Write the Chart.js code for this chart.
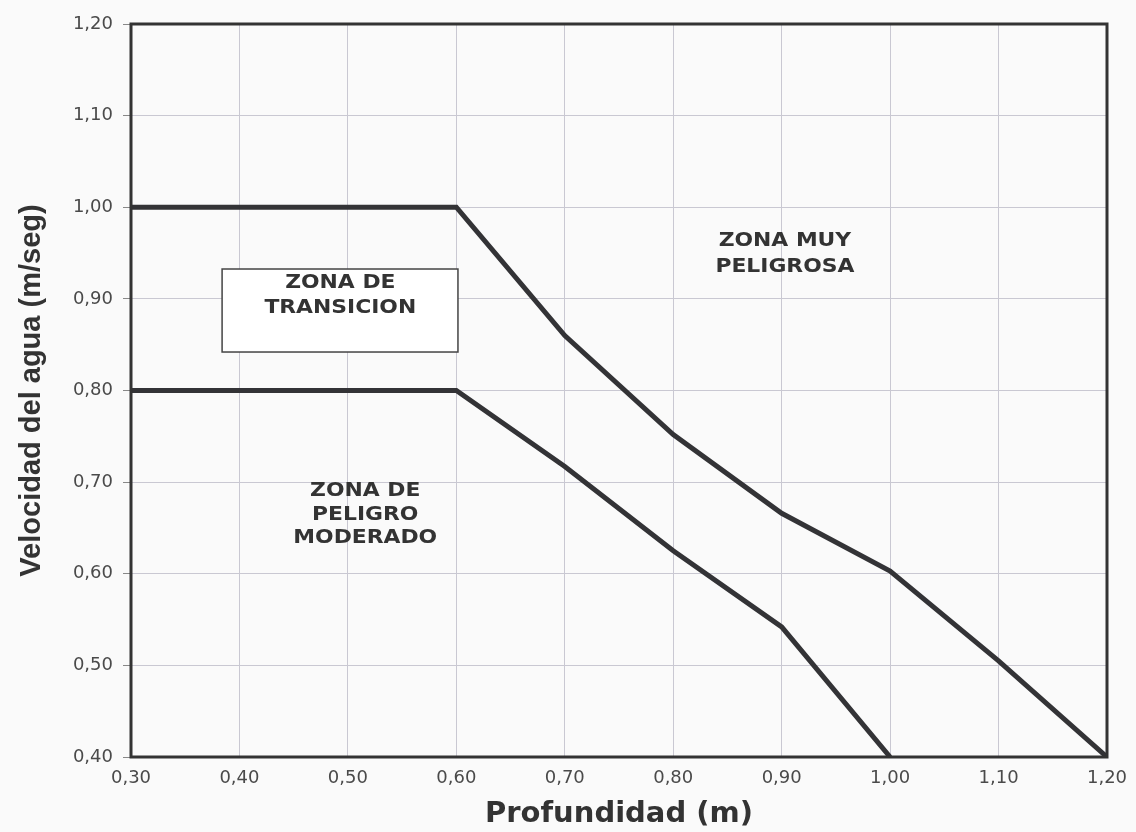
<!DOCTYPE html>
<html lang="es">
<head>
  <meta charset="UTF-8" />
  <title>Velocidad del agua vs Profundidad</title>
  <script src="https://cdn.jsdelivr.net/npm/chart.js"></script>
  <style>
    body {
      margin: 0;
      background: #fafafa;
    }
    canvas {
      display: block;
    }
  </style>
</head>
<body>

<canvas id="chart-zonas" width="1136" height="832"></canvas>

<script>
  // limite superior (zona muy peligrosa)
  const depthUpper = [0.30, 0.60, 0.70, 0.80, 0.90, 1.00, 1.10, 1.20];
  const velUpper   = [1.00, 1.00, 0.86, 0.752, 0.666, 0.603, 0.505, 0.40];

  // limite inferior (zona de peligro moderado)
  const depthLower = [0.30, 0.60, 0.70, 0.80, 0.90, 1.00];
  const velLower   = [0.80, 0.80, 0.717, 0.625, 0.542, 0.40];

  const xTicks = [0.30, 0.40, 0.50, 0.60, 0.70, 0.80, 0.90, 1.00, 1.10, 1.20];
  const yTicks = [0.40, 0.50, 0.60, 0.70, 0.80, 0.90, 1.00, 1.10, 1.20];

  const zonaMuyPeligrosa = ["ZONA MUY", "PELIGROSA"];
  const zonaTransicion = ["ZONA DE", "TRANSICION"];
  const zonaModerado = ["ZONA DE", "PELIGRO", "MODERADO"];

  const fmt = v => v.toFixed(2).replace('.', ',');
  const toPts = (xs, ys) => xs.map((x, i) => ({ x: x, y: ys[i] }));

  const lineColor = '#333336';
  const gridColor = '#c9c8d2';

  // marco grueso alrededor del area del grafico + textos de zonas
  const zonasPlugin = {
    id: 'zonas',
    afterDatasetsDraw(chart) {
      const { ctx, chartArea: a, scales: { x, y } } = chart;
      ctx.save();

      // caja de transicion
      const bx1 = x.getPixelForValue(0.384), bx2 = x.getPixelForValue(0.6015);
      const by1 = y.getPixelForValue(0.9326), by2 = y.getPixelForValue(0.842);
      ctx.fillStyle = '#ffffff';
      ctx.fillRect(bx1, by1, bx2 - bx1, by2 - by1);
      ctx.strokeStyle = '#444';
      ctx.lineWidth = 1.5;
      ctx.strokeRect(bx1, by1, bx2 - bx1, by2 - by1);

      const writeLines = (lines, xv, yvs) => {
        ctx.font = 'bold 19px "DejaVu Sans"';
        ctx.fillStyle = '#333';
        ctx.textAlign = 'center';
        ctx.textBaseline = 'middle';
        lines.forEach((t, i) => {
          const px = x.getPixelForValue(xv);
          const py = y.getPixelForValue(yvs[i]);
          ctx.save();
          ctx.translate(px, py);
          ctx.scale(1.15, 1);
          ctx.fillText(t, 0, 0);
          ctx.restore();
        });
      };
      writeLines(zonaMuyPeligrosa, 0.903, [0.963, 0.935]);
      writeLines(zonaTransicion, 0.493, [0.917, 0.890]);
      writeLines(zonaModerado, 0.516, [0.690, 0.664, 0.639]);

      ctx.strokeStyle = '#333';
      ctx.lineWidth = 3;
      ctx.strokeRect(a.left, a.top, a.right - a.left, a.bottom - a.top);
      ctx.restore();
    }
  };

  const ctx = document.getElementById('chart-zonas');

  new Chart(ctx, {
    type: 'scatter',
    data: {
      datasets: [
        {
          label: 'Limite superior',
          data: toPts(depthUpper, velUpper),
          showLine: true,
          borderColor: lineColor,
          borderWidth: 5,
          pointRadius: 0,
          tension: 0
        },
        {
          label: 'Limite inferior',
          data: toPts(depthLower, velLower),
          showLine: true,
          borderColor: lineColor,
          borderWidth: 5,
          pointRadius: 0,
          tension: 0
        }
      ]
    },
    options: {
      responsive: false,
      animation: false,
      layout: { padding: { top: 24, right: 29, bottom: 0, left: 0 } },
      plugins: {
        legend: { display: false },
        tooltip: { enabled: false }
      },
      scales: {
        x: {
          type: 'linear',
          min: 0.30,
          max: 1.20,
          afterBuildTicks: s => { s.ticks = xTicks.map(v => ({ value: v })); },
          afterFit: s => { s.height = 75; },
          ticks: {
            callback: v => fmt(v),
            color: '#4a4a4a',
            padding: 3,
            maxRotation: 0,
            font: { family: '"DejaVu Sans"', size: 18 }
          },
          grid: { color: gridColor, tickLength: 8, tickColor: 'rgba(0,0,0,0)' },
          border: { display: false },
          title: {
            display: true,
            text: 'Profundidad (m)',
            color: '#333',
            padding: { top: 0, bottom: 0 },
            font: { family: '"DejaVu Sans"', size: 29, weight: 'bold' }
          }
        },
        y: {
          type: 'linear',
          min: 0.40,
          max: 1.20,
          afterBuildTicks: s => { s.ticks = yTicks.map(v => ({ value: v })); },
          afterFit: s => { s.width = 131; },
          ticks: {
            callback: v => fmt(v),
            color: '#4a4a4a',
            padding: 10,
            font: { family: '"DejaVu Sans"', size: 18 }
          },
          grid: { color: gridColor, tickLength: 8, tickColor: '#888' },
          border: { display: false },
          title: {
            display: true,
            text: 'Velocidad del agua (m/seg)',
            color: '#333',
            padding: { top: 15, bottom: 0 },
            font: { family: '"Liberation Sans"', size: 29, weight: 'bold' }
          }
        }
      }
    },
    plugins: [zonasPlugin]
  });
</script>

</body>
</html>
